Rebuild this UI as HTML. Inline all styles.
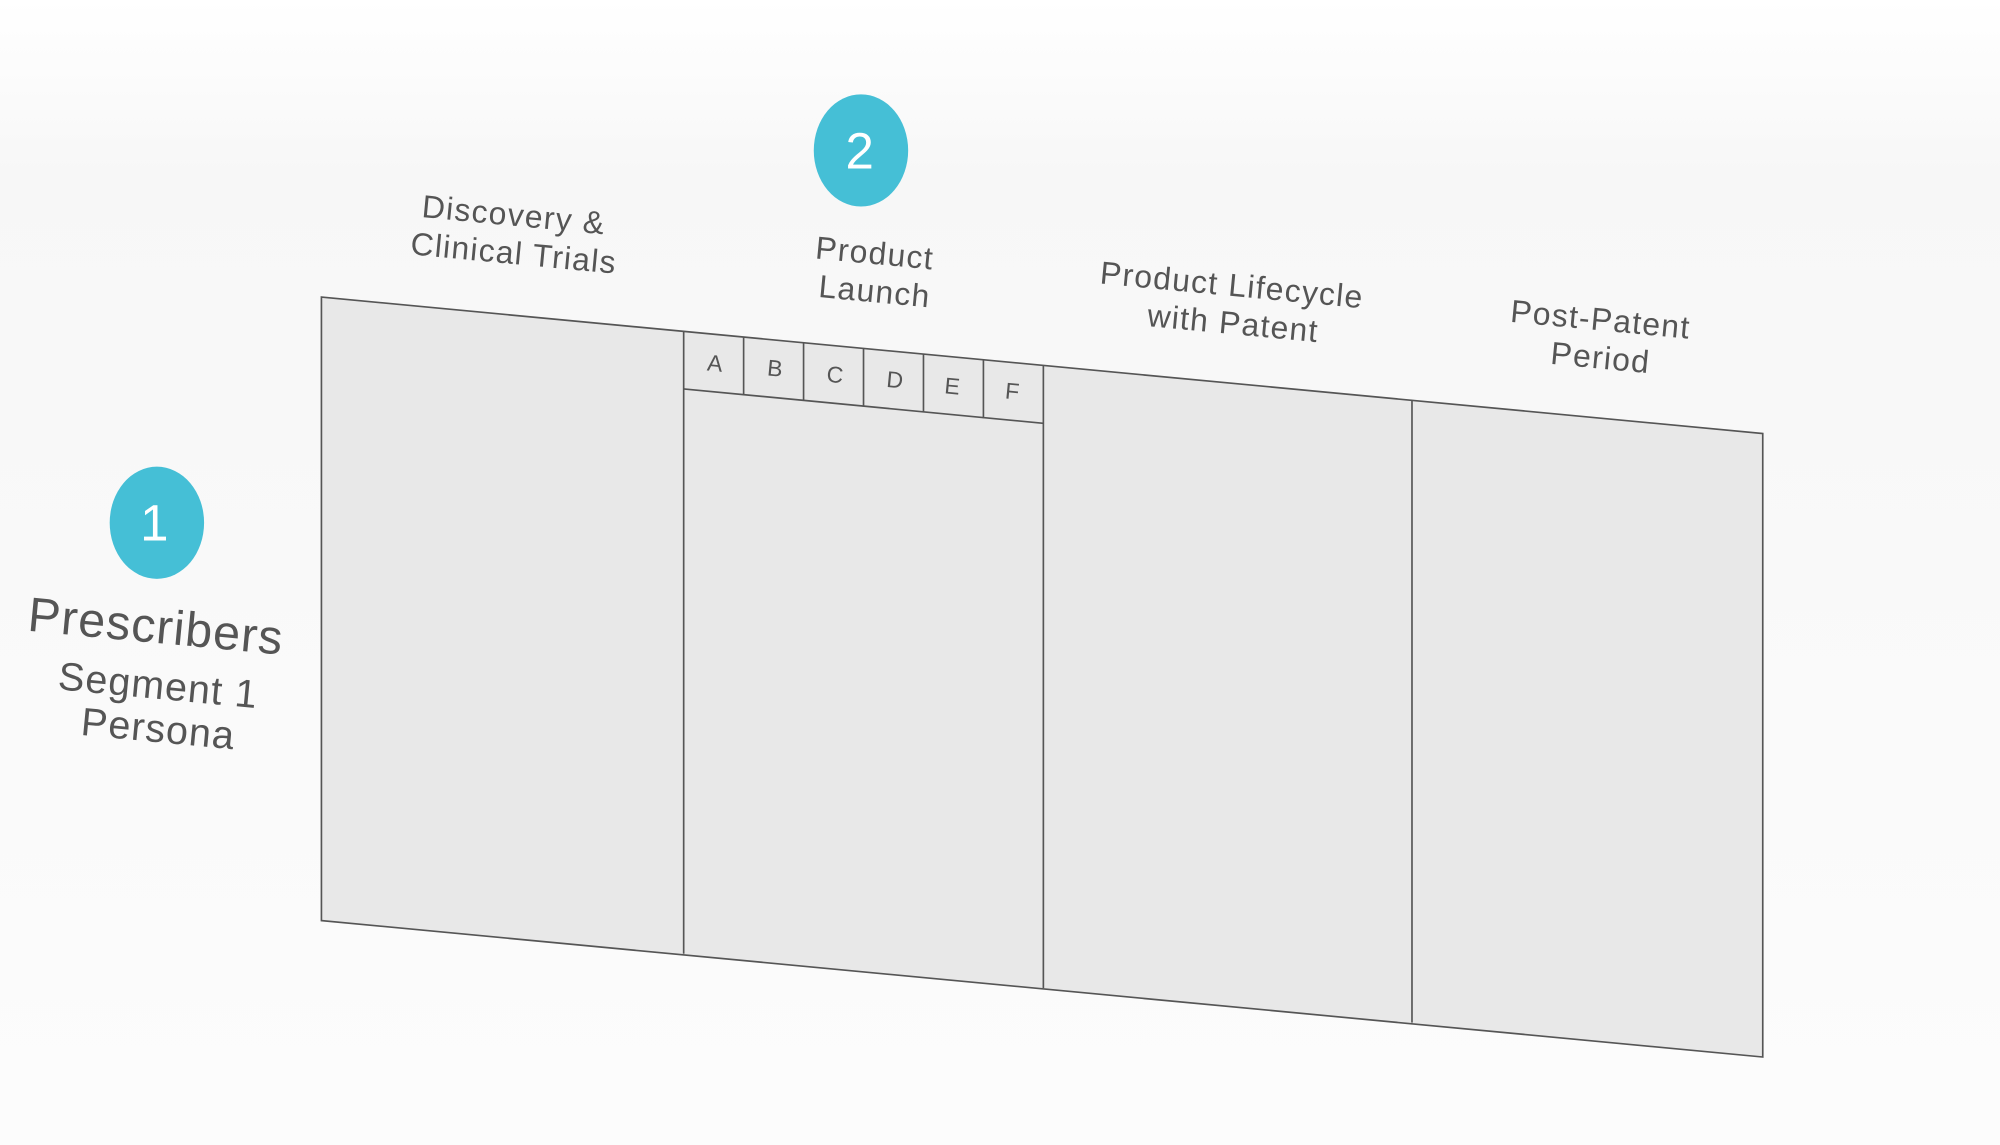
<!DOCTYPE html>
<html><head><meta charset="utf-8"><style>
html,body{margin:0;padding:0;width:2000px;height:1145px;overflow:hidden;background:#fff}
svg{display:block}
text{font-family:"Liberation Sans",sans-serif;fill:#555}
</style></head><body>
<svg width="2000" height="1145" viewBox="0 0 1568 898" preserveAspectRatio="none">
<defs><linearGradient id="bg" x1="0" y1="0" x2="0" y2="1"><stop offset="0" stop-color="#ffffff"/><stop offset="0.15" stop-color="#f7f7f7"/><stop offset="1" stop-color="#fcfcfc"/></linearGradient></defs>
<rect width="1568" height="898" fill="url(#bg)"/>
<polygon points="252,233 1382,340 1382,829 252,722" fill="#e8e8e8" stroke="#555" stroke-width="1.3"/>
<g stroke="#555" stroke-width="1.3" fill="none">
<line x1="536" y1="260" x2="536" y2="748"/>
<line x1="818" y1="287" x2="818" y2="775"/>
<line x1="1107" y1="314" x2="1107" y2="802"/>
<line x1="536" y1="305" x2="818" y2="332"/>
<line x1="583" y1="264" x2="583" y2="310"/>
<line x1="630" y1="269" x2="630" y2="314"/>
<line x1="677" y1="273" x2="677" y2="319"/>
<line x1="724" y1="278" x2="724" y2="323"/>
<line x1="771" y1="282" x2="771" y2="328"/>
</g>
<g font-size="18" text-anchor="middle">
<text transform="translate(560,291) rotate(5.4)">A</text>
<text transform="translate(607,295) rotate(5.4)">B</text>
<text transform="translate(654,300) rotate(5.4)">C</text>
<text transform="translate(701,304) rotate(5.4)">D</text>
<text transform="translate(746,309) rotate(5.4)">E</text>
<text transform="translate(793,313) rotate(5.4)">F</text>
</g>
<ellipse cx="123" cy="410" rx="37" ry="44" fill="#45bfd6"/>
<ellipse cx="675" cy="118" rx="37" ry="44" fill="#45bfd6"/>
<text x="121" y="424" font-size="40" text-anchor="middle" style="fill:#fff;font-weight:300">1</text>
<text x="674" y="132" font-size="40" text-anchor="middle" style="fill:#fff">2</text>
<g text-anchor="middle" font-size="25" letter-spacing="1">
<text transform="translate(402,177) rotate(5.4)">Discovery &amp;</text>
<text transform="translate(402,207) rotate(5.4)">Clinical Trials</text>
<text transform="translate(685,207) rotate(5.4)">Product</text>
<text transform="translate(685,237) rotate(5.4)">Launch</text>
<text transform="translate(965,232) rotate(5.4)">Product Lifecycle</text>
<text transform="translate(966,262) rotate(5.4)">with Patent</text>
<text transform="translate(1254,259) rotate(5.4)">Post-Patent</text>
<text transform="translate(1254,289) rotate(5.4)">Period</text>
</g>
<g text-anchor="middle" letter-spacing="0.8">
<text transform="translate(121,504) rotate(5.4)" font-size="38">Prescribers</text>
<text transform="translate(123,548) rotate(5.4)" font-size="31">Segment 1</text>
<text transform="translate(123,582) rotate(5.4)" font-size="31">Persona</text>
</g>
</svg>
</body></html>
